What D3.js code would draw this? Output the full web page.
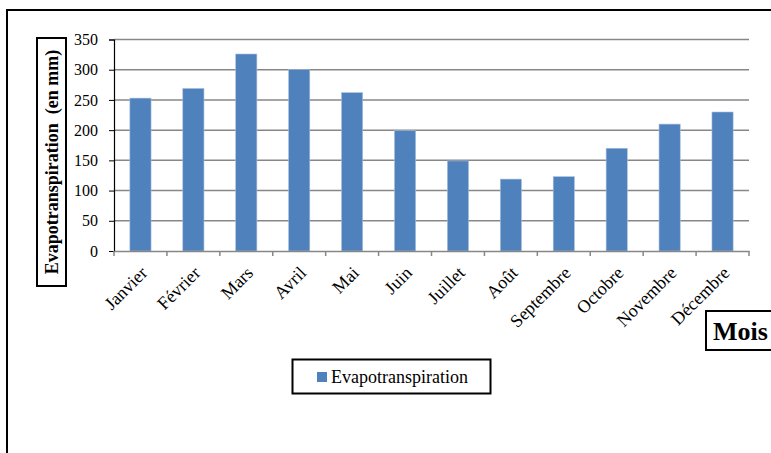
<!DOCTYPE html>
<html><head><meta charset="utf-8">
<script src="https://cdn.jsdelivr.net/npm/d3@7"></script>
<style>body{margin:0;background:#fff}svg{display:block}
svg text{font-family:"Liberation Serif";}
</style>
</head><body>
<script>
const months = ["Janvier","Février","Mars","Avril","Mai","Juin","Juillet","Août","Septembre","Octobre","Novembre","Décembre"];
const values = [253,269,326,300,262,199,149,119,123,170,210,230];
const yTicks = [0,50,100,150,200,250,300,350];
const seriesName = "Evapotranspiration";
const yTitle = "Evapotranspiration\u00a0\u00a0(en mm)";
const xTitle = "Mois";

const W = 771, H = 453;
const svg = d3.select("body").append("svg").attr("width", W).attr("height", H);
const font = '"Liberation Serif"';

// outer frame
svg.append("rect").attr("x",7).attr("y",10).attr("width",W+20).attr("height",H+20)
  .attr("fill","none").attr("stroke","#000").attr("stroke-width",2);

const x = d3.scaleBand().domain(months).range([114,749]).paddingInner(0.6).paddingOuter(0.3);
const y = d3.scaleLinear().domain([0,350]).range([251,39.5]);

// gridlines
svg.append("g").selectAll("line").data(yTicks.filter(d=>d>0)).join("line")
  .attr("x1",114).attr("x2",749).attr("y1",d=>y(d)).attr("y2",d=>y(d))
  .attr("stroke","#878787").attr("stroke-width",1.5);

// bars
svg.append("g").selectAll("rect").data(values).join("rect")
  .attr("x",(d,i)=>x(months[i])).attr("width",x.bandwidth())
  .attr("y",d=>y(d)).attr("height",d=>y(0)-y(d))
  .attr("fill","#4f81bd").attr("stroke","#a7bfdc").attr("stroke-width",0.6);

// y axis
const yAxis = d3.axisLeft(y).tickValues(yTicks).tickSize(5).tickPadding(11);
const gy = svg.append("g").attr("transform","translate(114,0)").call(yAxis);
gy.attr("font-family",null).attr("font-size",null);
gy.select(".domain").attr("stroke","#000").attr("stroke-width",1.2);
gy.selectAll(".tick line").attr("stroke","#000");
gy.selectAll("text").style("font-family",font).style("font-size","16px").attr("fill","#000");

// x axis
const xPos = d3.scaleBand().domain(months).range([114,749]);
const xAxis = d3.axisBottom(xPos).tickSize(0).tickFormat(d=>d);
const gx = svg.append("g").attr("transform","translate(0,251)").call(xAxis);
gx.attr("font-family",null).attr("font-size",null);
gx.select(".domain").attr("stroke","#878787").attr("stroke-width",1.5);
gx.selectAll(".tick text").style("font-family",font).style("font-size","18px").attr("fill","#000")
  .attr("text-anchor","end").attr("dy",0).attr("y",0)
  .attr("transform","translate(8,23) rotate(-45)");
// tick marks at band boundaries
const bounds = months.map(m=>xPos(m)).concat([749]);
svg.append("g").selectAll("line").data(bounds).join("line")
  .attr("x1",d=>d).attr("x2",d=>d).attr("y1",251).attr("y2",256)
  .attr("stroke","#878787").attr("stroke-width",1.5);

// y title box
svg.append("rect").attr("x",37).attr("y",38).attr("width",29).attr("height",248)
  .attr("fill","#fff").attr("stroke","#000").attr("stroke-width",2);
svg.append("text").attr("transform","translate(58,162) rotate(-90)")
  .attr("text-anchor","middle").style("font-family",font).style("font-weight","bold")
  .style("font-size","18px").text(yTitle);

// x title box
svg.append("rect").attr("x",706).attr("y",311).attr("width",80).attr("height",39)
  .attr("fill","#fff").attr("stroke","#000").attr("stroke-width",2);
svg.append("text").attr("x",713).attr("y",340).style("font-family",font)
  .style("font-weight","bold").style("font-size","26px").text(xTitle);

// legend
svg.append("rect").attr("x",292.5).attr("y",359.5).attr("width",198).attr("height",34)
  .attr("fill","#fff").attr("stroke","#000").attr("stroke-width",2);
svg.append("rect").attr("x",317).attr("y",372).attr("width",10).attr("height",10).attr("fill","#4f81bd");
svg.append("text").attr("x",331).attr("y",383).style("font-family",font).style("font-size","18px").text(seriesName);
</script>
</body></html>
